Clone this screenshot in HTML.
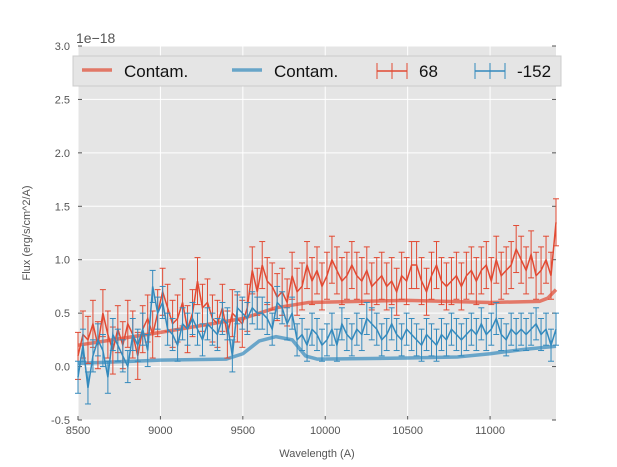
<!DOCTYPE html>
<html><head><meta charset="utf-8"><style>body{margin:0;background:#fff}svg{display:block;font-family:"Liberation Sans",sans-serif}</style></head>
<body>
<svg id="c" width="617" height="467"></svg>
<script>
const red=[0.1,0.3,0.25,0.4,0.2,0.5,0.3,0.15,
0.35,0.2,0.4,0.3,0.1,0.35,0.45,0.3,0.5,
0.7,0.55,0.4,0.45,0.6,0.35,0.5,0.8,0.55,0.6,
0.45,0.4,0.55,0.3,0.5,0.45,0.4,0.55,0.9,0.7,
0.95,0.8,0.75,0.65,0.7,0.6,0.85,0.7,0.75,0.95,
0.8,0.9,0.75,0.85,1.0,0.9,0.8,0.85,0.95,0.85,
0.8,0.9,0.75,0.8,0.85,0.75,0.8,0.7,0.85,0.8,
0.95,0.95,0.8,0.7,0.85,0.95,0.8,0.75,0.8,0.85,
0.75,0.85,0.9,0.8,0.9,0.95,0.8,1.0,0.85,0.9,
0.95,1.1,1.0,0.9,1.05,0.85,0.9,1.0,0.85,1.35];
const blue=[-0.1,0.2,-0.2,0.1,0.25,0.15,-0.1,0.3,
0.2,0.1,0.0,0.3,0.2,0.35,0.15,0.75,0.5,
0.6,0.35,0.3,0.2,0.4,0.35,0.45,0.35,0.25,0.4,
0.35,0.3,0.45,0.4,0.1,0.55,0.5,0.45,0.55,0.5,
0.5,0.45,0.35,0.6,0.55,0.4,0.5,0.25,0.3,0.2,
0.35,0.3,0.2,0.25,0.35,0.2,0.4,0.3,0.25,0.35,
0.3,0.45,0.4,0.35,0.25,0.3,0.4,0.3,0.25,0.35,
0.3,0.25,0.2,0.3,0.25,0.2,0.3,0.25,0.35,0.3,
0.25,0.3,0.35,0.3,0.4,0.3,0.35,0.45,0.3,0.25,
0.35,0.3,0.35,0.3,0.35,0.4,0.3,0.35,0.2,0.35];
const redErr=0.22, blueErr=0.15;
const contRedX=[8500,9000,9500,9700,9900,10500,11000,11300,11350,11400];
const contRedY=[0.2,0.32,0.45,0.55,0.6,0.62,0.6,0.61,0.64,0.72];
const contBlueX=[8500,9000,9400,9500,9600,9700,9800,9880,9950,10500,10800,11000,11200,11400];
const contBlueY=[0.03,0.06,0.07,0.12,0.24,0.28,0.25,0.1,0.07,0.08,0.09,0.12,0.16,0.19];
const xTicks=[8500,9000,9500,10000,10500,11000];
const yTicks=[-0.5,0.0,0.5,1.0,1.5,2.0,2.5,3.0];
const X0=78,X1=556,Y0=420,Y1=46;
const sx=v=>X0+(v-8500)/(11400-8500)*(X1-X0);
const sy=v=>Y0-(v+0.5)/3.5*(Y0-Y1);
const svg=document.getElementById('c');const NS='http://www.w3.org/2000/svg';
function mk(t,a,p){const e=document.createElementNS(NS,t);for(const k in a)e.setAttribute(k,a[k]);(p||svg).appendChild(e);return e;}
const bg=mk('rect',{x:X0,y:Y1,width:X1-X0,height:Y0-Y1,fill:'#e5e5e5'});


xTicks.forEach(t=>{const x=sx(t);
 const g=mk('line',{x1:x,x2:x,y1:Y1,y2:Y0,stroke:'#fff','stroke-width':1});
 
 
 mk('line',{x1:x,x2:x,y1:Y0,y2:Y0-4,stroke:'#555'});
 const tx=mk('text',{x:x,y:Y0+14,'font-size':11,fill:'#555','text-anchor':'middle'});tx.textContent=t;
 
 });
yTicks.forEach(t=>{const y=sy(t);
 const g=mk('line',{x1:X0,x2:X1,y1:y,y2:y,stroke:'#fff','stroke-width':1});
 
 
 mk('line',{x1:X0,x2:X0+4,y1:y,y2:y,stroke:'#555'});
 mk('line',{x1:X1,x2:X1-4,y1:y,y2:y,stroke:'#555'});
 const tx=mk('text',{x:X0-8,y:y+4,'font-size':11,fill:'#555','text-anchor':'end'});tx.textContent=t.toFixed(1);
 
 });
function contam(xs,ys,col,name){const d=xs.map((v,i)=>(i?'L':'M')+sx(v)+','+sy(ys[i])).join('');
 const p=mk('path',{d:d,fill:'none',stroke:col,'stroke-width':3.5,opacity:0.7,'stroke-linejoin':'round'});
 
 }
contam(contRedX,contRedY,'#e24a33','contam-line-68');
contam(contBlueX,contBlueY,'#348abd','contam-line-152');
function series(vals,err,col,name){const n=vals.length;const g=mk('g',{});
 
 
 const xv=i=>8500+i*(2900/(n-1));
 vals.forEach((v,i)=>{const x=sx(xv(i)),a=sy(v+err),b=sy(v-err);
  mk('line',{x1:x,x2:x,y1:a,y2:b,stroke:col,'stroke-width':1},g);
  mk('line',{x1:x-3,x2:x+3,y1:a,y2:a,stroke:col,'stroke-width':1},g);
  mk('line',{x1:x-3,x2:x+3,y1:b,y2:b,stroke:col,'stroke-width':1},g);});
 const d=vals.map((v,i)=>(i?'L':'M')+sx(xv(i))+','+sy(v)).join('');
 mk('path',{d:d,fill:'none',stroke:col,'stroke-width':1.5},g);}
series(red,redErr,'#e24a33','series-68');
series(blue,blueErr,'#348abd','series-152');
const lg=mk('g',{});


mk('rect',{x:73,y:56,width:488,height:30,fill:'#e5e5e5',stroke:'#ccc'},lg);
function le(x,col,label,eb){
 if(eb){mk('line',{x1:x,x2:x+30,y1:71,y2:71,stroke:col,'stroke-width':1.5},lg);
  [x,x+30].forEach(xx=>{mk('line',{x1:xx,x2:xx,y1:63,y2:79,stroke:col},lg);});
  mk('line',{x1:x+15,x2:x+15,y1:63,y2:79,stroke:col},lg);
 }else mk('line',{x1:x,x2:x+30,y1:70,y2:70,stroke:col,'stroke-width':3.5,opacity:0.7},lg);
 const t=mk('text',{x:x+42,y:77,'font-size':17,fill:'#111'},lg);t.textContent=label;
 
 }
le(82,'#e24a33','Contam.',false);le(232,'#348abd','Contam.',false);le(377,'#e24a33','68',true);le(475,'#348abd','-152',true);
const e=mk('text',{x:76,y:43,'font-size':14,fill:'#555'});e.textContent='1e\u221218';


const xl=mk('text',{x:(X0+X1)/2,y:457,'font-size':11,fill:'#555','text-anchor':'middle'});xl.textContent='Wavelength (A)';


const yl=mk('text',{x:30,y:233,'font-size':11,fill:'#555','text-anchor':'middle',transform:'rotate(-90 30 233)'});yl.textContent='Flux (erg/s/cm^2/A)';


</script>
</body></html>
